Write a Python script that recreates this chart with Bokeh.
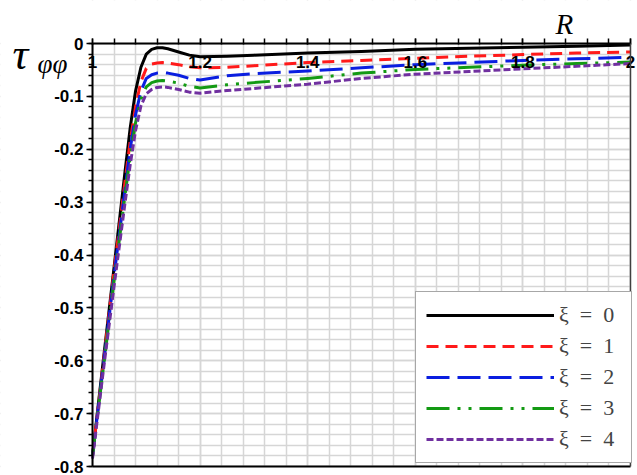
from bokeh.plotting import figure
from bokeh.models import (Legend, LegendItem, SingleIntervalTicker, FixedTicker,
                          LinearAxis, Label, BoxAnnotation, Range1d,
                          CustomJSTickFormatter)
from bokeh.embed import file_html
from bokeh.resources import INLINE

# Radial coordinate
R = [1.00, 1.02, 1.04, 1.06, 1.07, 1.08, 1.09, 1.10, 1.11, 1.12, 1.13, 1.14,
     1.16, 1.18, 1.20, 1.25, 1.30, 1.40, 1.50, 1.60, 1.70, 1.80, 1.90, 2.00]

# Hoop stress tau_phiphi for each value of xi
tau_xi0 = [-0.780, -0.600, -0.424, -0.246, -0.160, -0.090, -0.045, -0.020,
           -0.011, -0.008, -0.008, -0.010, -0.016, -0.022, -0.025, -0.024,
           -0.022, -0.018, -0.015, -0.011, -0.009, -0.007, -0.005, -0.003]
tau_xi1 = [-0.780, -0.605, -0.430, -0.265, -0.185, -0.120, -0.072, -0.047,
           -0.039, -0.037, -0.036, -0.037, -0.040, -0.044, -0.046, -0.045,
           -0.042, -0.036, -0.032, -0.028, -0.024, -0.021, -0.018, -0.016]
tau_xi2 = [-0.780, -0.610, -0.440, -0.280, -0.200, -0.135, -0.090, -0.066,
           -0.059, -0.056, -0.055, -0.056, -0.060, -0.066, -0.069, -0.061,
           -0.057, -0.052, -0.046, -0.040, -0.036, -0.032, -0.029, -0.026]
tau_xi3 = [-0.780, -0.615, -0.450, -0.290, -0.215, -0.150, -0.105, -0.082,
           -0.074, -0.071, -0.070, -0.071, -0.075, -0.081, -0.084, -0.078,
           -0.074, -0.066, -0.056, -0.049, -0.045, -0.041, -0.038, -0.035]
tau_xi4 = [-0.785, -0.620, -0.460, -0.305, -0.230, -0.165, -0.118, -0.095,
           -0.087, -0.083, -0.082, -0.083, -0.087, -0.092, -0.094, -0.089,
           -0.085, -0.077, -0.066, -0.058, -0.053, -0.048, -0.043, -0.038]

series_labels = ["ξ\u2002=\u20020", "ξ\u2002=\u20021", "ξ\u2002=\u20022",
                 "ξ\u2002=\u20023", "ξ\u2002=\u20024"]

R_MIN, R_MAX = 1.0, 2.0
T_MIN, T_MAX = -0.8, 0.0

# The frame fills the whole canvas; the plotting box [1, 2] x [-0.8, 0] sits
# inside it with room for the titles and tick labels around it.
W, H = 637, 475
BOX_L, BOX_R, BOX_T, BOX_B = 92, 630, 43, 466
sx = (BOX_R - BOX_L) / (R_MAX - R_MIN)
sy = (BOX_B - BOX_T) / (T_MAX - T_MIN)
x_range = Range1d(R_MIN - BOX_L / sx, R_MAX + (W - BOX_R) / sx)
y_range = Range1d(T_MIN - (H - BOX_B) / sy, T_MAX + BOX_T / sy)

p = figure(width=W, height=H, x_range=x_range, y_range=y_range,
           x_axis_location="above", output_backend="svg",
           toolbar_location=None, min_border=0)
p.background_fill_color = "white"
p.border_fill_color = "white"
p.outline_line_color = None

fmt = CustomJSTickFormatter(code="""
    let s = tick.toFixed(1).replace(/\\.0$/, '');
    if (s === '-0') s = '0';
    return s;
""")

xa = p.xaxis[0]
xa.fixed_location = T_MAX
xa.bounds = (R_MIN, R_MAX)
xa.ticker = SingleIntervalTicker(interval=0.2, num_minor_ticks=5)
xa.formatter = fmt
xa.axis_line_width = 2
xa.axis_line_color = "black"
xa.major_tick_out = 5
xa.major_tick_in = 1
xa.minor_tick_out = 5
xa.minor_tick_in = 1
xa.major_tick_line_width = 1.5
xa.minor_tick_line_width = 1.5
xa.major_label_standoff = -29
xa.major_label_text_font = "Liberation Sans"
xa.major_label_text_font_style = "bold"
xa.major_label_text_font_size = "17px"
xa.major_label_text_color = "black"

ya = p.yaxis[0]
ya.fixed_location = R_MIN
ya.bounds = (T_MIN, T_MAX)
ya.ticker = SingleIntervalTicker(interval=0.1, num_minor_ticks=5)
ya.formatter = fmt
ya.axis_line_width = 2
ya.axis_line_color = "black"
ya.major_tick_out = 6
ya.major_tick_in = 0
ya.minor_tick_out = 4
ya.minor_tick_in = 0
ya.major_tick_line_width = 1.5
ya.minor_tick_line_width = 1.5
ya.major_label_standoff = 3
ya.major_label_text_font = "Liberation Sans"
ya.major_label_text_font_style = "bold"
ya.major_label_text_font_size = "17px"
ya.major_label_text_color = "black"

for g in (p.xgrid[0], p.ygrid[0]):
    g.grid_line_color = "#d6d6d6"
    g.grid_line_width = 1.5
    g.minor_grid_line_color = "#d6d6d6"
    g.minor_grid_line_width = 1.5

# White margins so the grid stays inside the plotting box
for kw in (dict(right=R_MIN), dict(left=R_MAX), dict(bottom=T_MAX),
           dict(top=T_MIN)):
    p.add_layout(BoxAnnotation(fill_color="white", fill_alpha=1.0,
                               line_color=None, level="underlay", **kw))

# Right and bottom edges of the plotting box
edge_r = LinearAxis(fixed_location=R_MAX, bounds=(T_MIN, T_MAX),
                    ticker=FixedTicker(ticks=[]), axis_line_color="#404040",
                    axis_line_width=1.5, major_label_text_font_size="0px")
edge_b = LinearAxis(fixed_location=T_MIN, bounds=(R_MIN, R_MAX),
                    ticker=FixedTicker(ticks=[]), axis_line_color="black",
                    axis_line_width=2, major_label_text_font_size="0px")
p.add_layout(edge_r, "right")
p.add_layout(edge_b, "below")

styles = [
    ("black", "solid"),
    ("#ff1a1a", "12 7"),
    ("#0a1ee0", "23 8"),
    ("#139a13", "23 8 3 8 3 8"),
    ("#7030a0", "7 3"),
]
series = [tau_xi0, tau_xi1, tau_xi2, tau_xi3, tau_xi4]

items = []
for vals, (col, dash), lab in zip(series, styles, series_labels):
    r = p.line(R, vals, line_color=col, line_width=3, line_dash=dash,
               line_join="round")
    items.append(LegendItem(label=lab, renderers=[r]))

legend = Legend(items=items, location=(415, 12), margin=0,
                padding=10, spacing=5, glyph_width=128, glyph_height=20,
                label_height=20, label_width=62, label_standoff=5,
                label_text_font="Liberation Serif",
                label_text_font_size="22px",
                border_line_color="#505050", border_line_width=1.5,
                background_fill_color="white", background_fill_alpha=1.0)
p.add_layout(legend, "center")

# Axis titles
p.add_layout(Label(x=R_MIN, y=T_MAX, x_offset=-80, y_offset=-11, text="τ",
                   text_font="Liberation Serif", text_font_style="italic",
                   text_font_size="44px", text_color="black",
                   text_baseline="alphabetic"))
p.add_layout(Label(x=R_MIN, y=T_MAX, x_offset=-55, y_offset=-20, text="φφ",
                   text_font="Liberation Serif", text_font_style="italic",
                   text_font_size="27px", text_color="black",
                   text_baseline="alphabetic"))
p.add_layout(Label(x=R_MAX, y=T_MAX, x_offset=-75, y_offset=20, text="R",
                   text_font="Liberation Serif", text_font_style="italic",
                   text_font_size="29px", text_color="black",
                   text_baseline="alphabetic"))

open("out.html", "w").write(file_html(p, INLINE))
